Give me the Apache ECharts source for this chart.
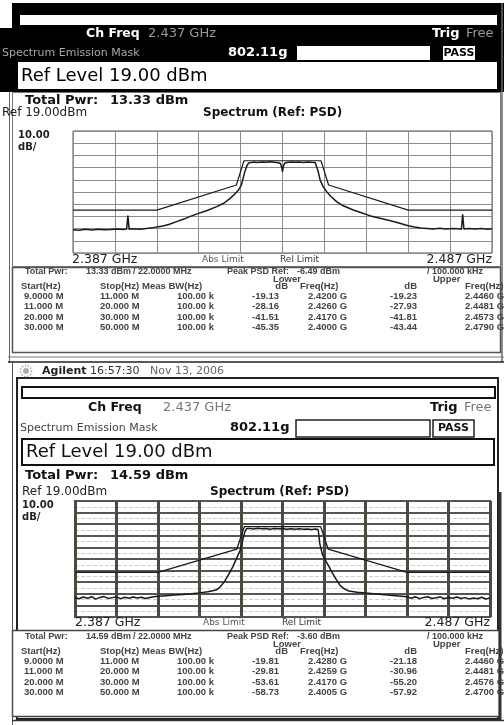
<!DOCTYPE html>
<html>
<head>
<meta charset="utf-8">
<script src="https://cdn.jsdelivr.net/npm/echarts@6.0.0/dist/echarts.min.js"></script>
<style>
  html, body { margin: 0; padding: 0; background: #fff; }
  #chart { width: 504px; height: 725px; }
</style>
</head>
<body>
<div id="chart"></div>
<script>
// reference level of both screens, top grid line (dBm)
const REF_LEVEL = 19

// offsets from the 2.437 GHz channel centre (MHz) and levels (dBm) of the first screen
const topTraceFreq = [-50, -48.5, -47, -45.5, -44, -42.5, -41, -39.5, -38, -37.2, -36.9, -36.6, -35.5, -34, -32.5, -31,
  -30, -28.5, -27, -25.3, -23.5, -22, -20, -18, -15.7, -14, -12.5, -11.5, -10.5, -9.8, -9.4, -9, -8.5, -8.1, -7.8,
  -7, -6, -5, -4, -3, -2, -1, -0.5, -0.2, 0, 0.2, 0.5, 1, 2, 3, 4, 5, 6, 7, 7.8, 8.2, 8.5, 9, 9.7, 10.5, 11.5,
  12.9, 14.5, 16.9, 19, 21, 23.3, 26, 28, 30, 31.5, 33, 34.5, 36, 37.5, 39, 40.5, 42, 42.7, 43, 43.3, 44.5, 46,
  47.5, 49, 50]
const topTraceDbm = [-61.9, -62.3, -61.6, -62.1, -61.5, -62.0, -61.7, -61.3, -61.8, -61.4, -50.4, -61.6, -61.2, -61.5, -60.9, -60.4,
  -59.6, -58.8, -57.4, -55.3, -53.2, -51.0, -48.5, -46.2, -43.0, -40.2, -36.2, -33.0, -29.4, -25.2, -19.8, -14.5, -9.5, -7.3, -6.8,
  -6.5, -6.9, -6.4, -6.7, -6.3, -6.6, -7.0, -7.6, -10.5, -14.4, -10.0, -7.4, -6.8, -6.4, -6.7, -6.5, -6.8, -6.4, -6.7, -6.9, -7.3, -14.0, -21.5, -26.6, -30.5, -34.5,
  -38.9, -42.3, -45.8, -48.2, -50.6, -52.6, -54.8, -56.6, -58.6, -59.7, -60.5, -60.9, -61.3, -60.8, -61.4, -60.9, -61.2, -61.5, -49.2, -61.3, -60.9, -61.4,
  -61.0, -61.6, -61.2]
const topMaskFreq = [-50, -30, -11, -9.2, 9.2, 11, 30, 50]
const topMaskDbm = [-45.8, -45.8, -25.3, -5.4, -5.4, -25.3, -45.8, -45.8]

// second screen
const botTraceFreq = [-50, -49, -48, -47, -46, -45, -44, -43, -42, -41, -40, -39, -38, -37, -36, -35, -34, -33, -32, -31,
  -30, -28, -26, -24, -22, -20, -18, -16, -15, -14, -13, -12, -11.2, -10.2, -9.6, -9.1, -8.7, -8, -7, -6, -5, -4, -3,
  -2, -1, 0, 1, 2, 3, 4, 5, 6, 7, 8, 8.6, 9, 9.6, 10.5, 11.2, 12, 13, 13.9, 15, 16, 18, 20, 22, 24, 26, 28, 30,
  31, 32, 33, 34, 35, 36, 37, 38, 39, 40, 41, 42, 43, 44, 45, 46, 47, 48, 49, 50]
const botTraceDbm = [-64.2, -65.3, -63.8, -64.9, -63.5, -65.6, -64.1, -63.4, -65.0, -64.3, -63.6, -65.2, -64.0, -64.8, -63.7, -64.6, -63.9, -65.1, -64.2, -63.6,
  -63.2, -62.6, -62.0, -61.5, -60.9, -60.2, -59.3, -57.8, -55.0, -50.5, -44.5, -38.0, -31.5, -23.5, -15.0, -7.8, -5.0, -4.6, -5.1, -4.5, -5.0, -4.7, -5.3,
  -4.8, -5.0, -4.7, -5.3, -4.9, -5.4, -5.0, -5.4, -5.1, -5.6, -5.2, -5.6, -18.0, -27.0, -33.0, -37.5, -43.0, -49.0, -54.0, -57.0, -58.6, -59.6, -60.3, -60.9, -61.6, -62.2, -62.9, -63.6,
  -64.8, -63.5, -65.2, -64.1, -63.6, -65.0, -64.4, -63.7, -65.3, -64.2, -64.9, -63.8, -65.1, -64.3, -65.4, -64.6, -65.2, -64.0, -65.5, -64.7]
const botMaskFreq = [-50, -30, -11, -9.2, 9.2, 11, 30, 50]
const botMaskDbm = [-42.5, -42.5, -22.4, -3.1, -3.1, -22.4, -42.5, -42.5]

// result tables
const startHz = ['9.0000 M', '11.000 M', '20.000 M', '30.000 M']
const stopHz = ['11.000 M', '20.000 M', '30.000 M', '50.000 M']
const measBw = ['100.00 k', '100.00 k', '100.00 k', '100.00 k']
const topLowerDb = ['-19.13', '-28.16', '-41.51', '-45.35']
const topLowerFreq = ['2.4200 G', '2.4260 G', '2.4170 G', '2.4000 G']
const topUpperDb = ['-19.23', '-27.93', '-41.81', '-43.44']
const topUpperFreq = ['2.4460 G', '2.4481 G', '2.4573 G', '2.4790 G']
const botLowerDb = ['-19.81', '-29.81', '-53.61', '-58.73']
const botLowerFreq = ['2.4280 G', '2.4259 G', '2.4170 G', '2.4005 G']
const botUpperDb = ['-21.18', '-30.96', '-55.20', '-57.92']
const botUpperFreq = ['2.4460 G', '2.4481 G', '2.4576 G', '2.4700 G']

const chart = echarts.init(document.getElementById('chart'))

// plotted as dB below the reference level so the 10 dB grid starts at a round number
const pairs = (fs, ls) => fs.map((f, i) => [f, +(ls[i] - REF_LEVEL).toFixed(2)])

const DV = '"DejaVu Sans"'
const LS = '"Liberation Sans"'

const text = (x, y, str, font, fill, align) => ({
  type: 'text', x, y, z: 10, silent: true,
  style: { text: str, font: font, fill: fill || '#222', align: align || 'left', verticalAlign: 'middle' },
})
const rect = (x, y, w, h, fill, stroke, lw) => ({
  type: 'rect', z: -1, silent: true,
  shape: { x, y, width: w, height: h },
  style: { fill: fill || 'none', stroke: stroke || 'none', lineWidth: lw || 1 },
})
const line = (x1, y1, x2, y2, stroke, lw) => ({
  type: 'line', z: 5, silent: true,
  shape: { x1, y1, x2, y2 },
  style: { stroke, lineWidth: lw || 1 },
})

const tableFont = 'bold 9.5px ' + LS
const tableTexts = (y0, totalPwr, peakPsd, lowerDb, lowerFreq, upperDb, upperFreq) => {
  const head = 'bold 9px ' + LS
  const els = [
    text(25, y0, 'Total Pwr:', head, '#444'),
    text(86, y0, totalPwr, head, '#444'),
    text(133, y0, '/ 22.0000 MHz', head, '#444'),
    text(227, y0, 'Peak PSD Ref:', head, '#444'),
    text(297, y0, peakPsd, head, '#444'),
    text(427, y0, '/ 100.000 kHz', head, '#444'),
    text(273, y0 + 7, 'Lower', tableFont, '#444'),
    text(433, y0 + 7, 'Upper', tableFont, '#444'),
    text(21, y0 + 14, 'Start(Hz)', tableFont, '#444'),
    text(100, y0 + 14, 'Stop(Hz)', tableFont, '#444'),
    text(142, y0 + 14, 'Meas BW(Hz)', tableFont, '#444'),
    text(288, y0 + 14, 'dB', tableFont, '#444', 'right'),
    text(300, y0 + 14, 'Freq(Hz)', tableFont, '#444'),
    text(417, y0 + 14, 'dB', tableFont, '#444', 'right'),
    text(465, y0 + 14, 'Freq(Hz)', tableFont, '#444'),
  ]
  startHz.forEach((s, i) => {
    const y = y0 + 24 + i * 10.5
    els.push(text(24, y, s, tableFont, '#444'))
    els.push(text(100, y, stopHz[i], tableFont, '#444'))
    els.push(text(177, y, measBw[i], tableFont, '#444'))
    els.push(text(279, y, lowerDb[i], tableFont, '#444', 'right'))
    els.push(text(308, y, lowerFreq[i], tableFont, '#444'))
    els.push(text(417, y, upperDb[i], tableFont, '#444', 'right'))
    els.push(text(465, y, upperFreq[i], tableFont, '#444'))
  })
  return els
}

const graphic = [
  // first screen: black header
  rect(12, 3, 492, 26, '#000'),
  rect(0, 28, 504, 64, '#000'),
  rect(20, 15, 477, 10, '#fff'),
  text(86, 34, 'Ch Freq', 'bold 12.5px ' + DV, '#fff'),
  text(148, 34, '2.437 GHz', '13px ' + DV, '#9a9a9a'),
  text(432, 34, 'Trig', 'bold 13px ' + DV, '#fff'),
  text(466, 34, 'Free', '13px ' + DV, '#9a9a9a'),
  text(2, 53, 'Spectrum Emission Mask', '11px ' + DV, '#a8a8a8'),
  text(228, 53, '802.11g', 'bold 13px ' + DV, '#fff'),
  rect(297, 46, 133, 14, '#fff'),
  rect(443, 46, 32, 14, '#fff'),
  text(459, 53, 'PASS', 'bold 11px ' + DV, '#000', 'center'),
  rect(18, 62, 479, 27, '#fff'),
  text(21, 76, 'Ref Level 19.00 dBm', '18px ' + DV, '#000'),
  // first screen: spectrum panel
  rect(12.5, 92.5, 488, 174, '#fff', '#777', 1),
  text(25, 101, 'Total Pwr:', 'bold 13px ' + DV, '#111'),
  text(110, 101, '13.33 dBm', 'bold 13px ' + DV, '#111'),
  text(2, 113, 'Ref 19.00dBm', '12px ' + DV, '#222'),
  text(203, 113, 'Spectrum (Ref: PSD)', 'bold 12px ' + DV, '#111'),
  text(18, 135, '10.00', 'bold 10px ' + DV, '#222'),
  text(18, 147, 'dB/', 'bold 10px ' + DV, '#222'),
  text(72, 260, '2.387 GHz', '12.5px ' + DV, '#222'),
  text(202, 260, 'Abs Limit', '9px ' + DV, '#555'),
  text(280, 260, 'Rel Limit', '9px ' + DV, '#333'),
  text(492, 260, '2.487 GHz', '12.5px ' + DV, '#222', 'right'),
  rect(12.5, 267.5, 488, 85, '#fff', '#555', 1.5),
  ...tableTexts(272, '13.33 dBm', '-6.49 dBm', topLowerDb, topLowerFreq, topUpperDb, topUpperFreq),
  line(9.5, 92, 9.5, 362, '#666', 1),
  line(502, 3, 502, 362, '#666', 1.5),
  line(8, 357, 504, 357, '#777', 1),
  line(8, 362, 504, 362, '#222', 1.5),

  // second screen
  { type: 'circle', z: 10, silent: true, shape: { cx: 26, cy: 371, r: 3 }, style: { fill: '#aaa' } },
  { type: 'circle', z: 10, silent: true, shape: { cx: 26, cy: 371, r: 5.5 }, style: { fill: 'none', stroke: '#aaa', lineWidth: 1.5, lineDash: [1.5, 1.5] } },
  text(42, 371, 'Agilent', 'bold 11px ' + DV, '#222'),
  text(90, 371, '16:57:30', '11px ' + DV, '#333'),
  text(150, 371, 'Nov 13, 2006', '11px ' + DV, '#666'),
  rect(17, 378, 481, 341, 'none', '#222', 2),
  rect(22, 387, 473, 11, '#fff', '#111', 2),
  text(88, 408, 'Ch Freq', 'bold 12.5px ' + DV, '#111'),
  text(163, 408, '2.437 GHz', '13px ' + DV, '#777'),
  text(430, 408, 'Trig', 'bold 13px ' + DV, '#111'),
  text(464, 408, 'Free', '13px ' + DV, '#777'),
  text(20, 428, 'Spectrum Emission Mask', '11px ' + DV, '#444'),
  text(230, 428, '802.11g', 'bold 13px ' + DV, '#111'),
  rect(296, 420, 134, 17, '#fff', '#222', 1.5),
  rect(433, 420, 41, 17, '#fff', '#222', 1.5),
  text(453.5, 428.5, 'PASS', 'bold 11px ' + DV, '#111', 'center'),
  rect(22, 439, 472, 26, '#fff', '#111', 2),
  text(26, 452, 'Ref Level 19.00 dBm', '18px ' + DV, '#111'),
  text(25, 476, 'Total Pwr:', 'bold 13px ' + DV, '#111'),
  text(110, 476, '14.59 dBm', 'bold 13px ' + DV, '#111'),
  text(22, 492, 'Ref 19.00dBm', '12px ' + DV, '#222'),
  text(210, 492, 'Spectrum (Ref: PSD)', 'bold 12px ' + DV, '#111'),
  text(22, 505, '10.00', 'bold 10px ' + DV, '#222'),
  text(22, 517, 'dB/', 'bold 10px ' + DV, '#222'),
  text(75, 623, '2.387 GHz', '12.5px ' + DV, '#222'),
  text(203, 623, 'Abs Limit', '9px ' + DV, '#555'),
  text(282, 623, 'Rel Limit', '9px ' + DV, '#333'),
  text(490, 623, '2.487 GHz', '12.5px ' + DV, '#222', 'right'),
  rect(12.5, 630.5, 487, 86, '#fff', '#444', 1.5),
  ...tableTexts(637, '14.59 dBm', '-3.60 dBm', botLowerDb, botLowerFreq, botUpperDb, botUpperFreq),
  line(12.5, 362, 12.5, 725, '#555', 1),
  line(500, 492, 500, 720, '#333', 3),
  line(12, 720.5, 504, 720.5, '#333', 1.5),
]

const xAxis = (gridIndex, split) => ({
  gridIndex, type: 'value', min: -50, max: 50, interval: 10,
  axisLine: { show: false }, axisTick: { show: false }, axisLabel: { show: false },
  splitLine: { show: true, lineStyle: split },
})
const yAxis = (gridIndex, split, minor) => ({
  gridIndex, type: 'value', min: -100, max: 0, interval: 10,
  axisLine: { show: false }, axisTick: { show: false }, axisLabel: { show: false },
  splitLine: { show: true, lineStyle: split },
  minorTick: { show: false, splitNumber: 2 },
  minorSplitLine: { show: !!minor, lineStyle: minor || {} },
})
const trace = (idx, data, width) => ({
  type: 'line', xAxisIndex: idx, yAxisIndex: idx, data,
  showSymbol: false, silent: true, animation: false,
  lineStyle: { color: '#1a1a1a', width },
})

chart.setOption({
  animation: false,
  backgroundColor: '#fff',
  graphic,
  grid: [
    { left: 73, top: 131, width: 419, height: 122, show: true, backgroundColor: '#fff', borderColor: '#555', borderWidth: 1 },
    { left: 75, top: 501, width: 415, height: 116, show: true, backgroundColor: '#fff', borderColor: '#444', borderWidth: 2 },
  ],
  xAxis: [
    xAxis(0, { color: '#8c8c8c', width: 1 }),
    xAxis(1, { color: '#4a4a40', width: 3 }),
  ],
  yAxis: [
    yAxis(0, { color: '#8c8c8c', width: 1 }),
    yAxis(1, { color: '#555', width: 2 }, { color: '#cfcfcf', width: 1, type: 'dashed' }),
  ],
  series: [
    trace(0, pairs(topMaskFreq, topMaskDbm), 1.2),
    trace(0, pairs(topTraceFreq, topTraceDbm), 1.5),
    trace(1, pairs(botMaskFreq, botMaskDbm), 1.3),
    trace(1, pairs(botTraceFreq, botTraceDbm), 1.5),
  ],
})
</script>
</body>
</html>
